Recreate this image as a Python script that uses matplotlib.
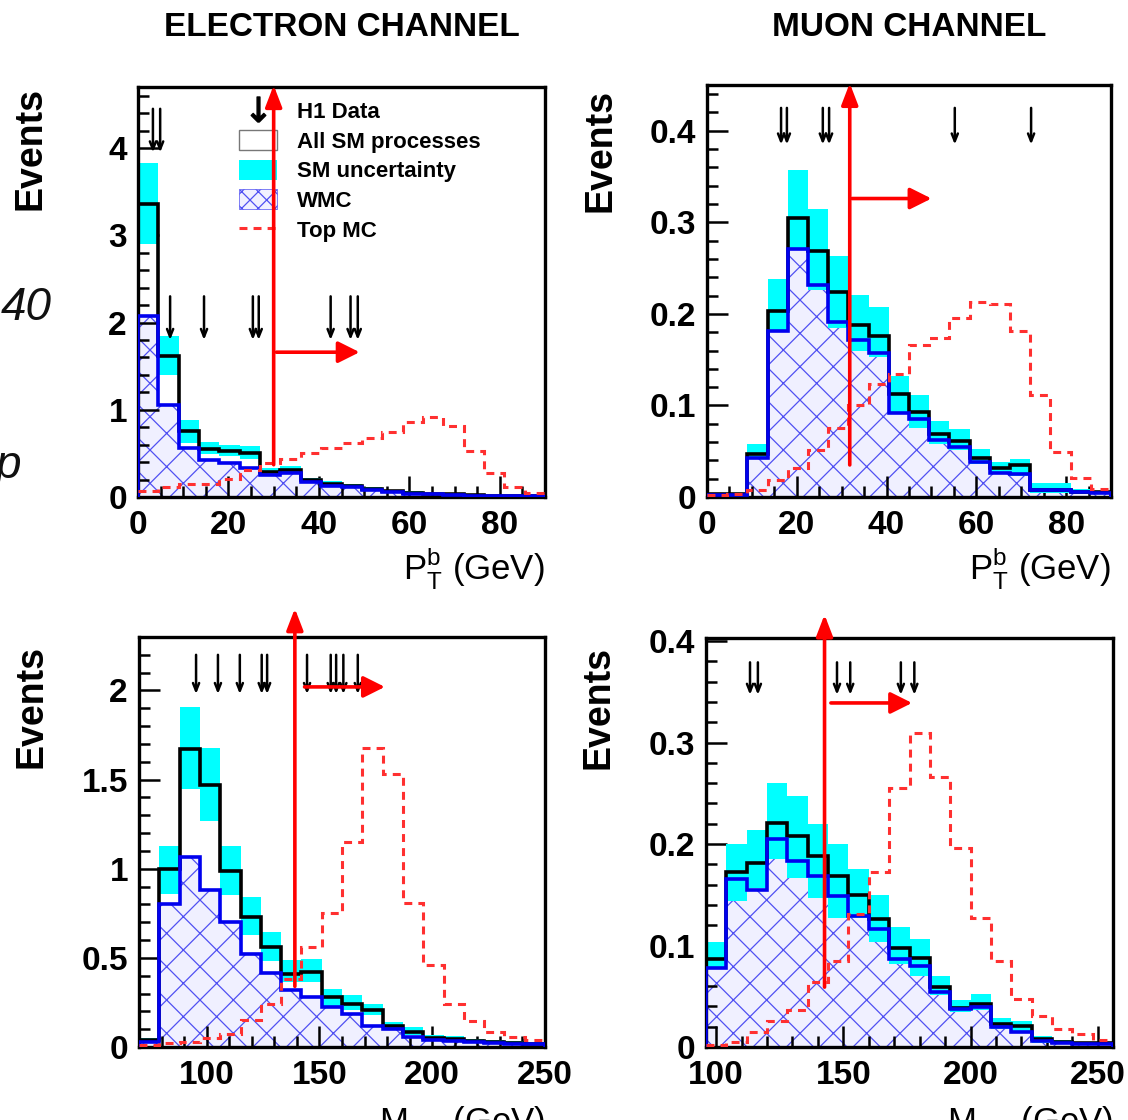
import numpy as np
import matplotlib
matplotlib.use('Agg')
from matplotlib import pyplot as plt
from matplotlib.patches import Patch
from matplotlib.lines import Line2D
from matplotlib.ticker import MultipleLocator, FormatStrFormatter

plt.rcParams['font.family'] = ['Liberation Sans', 'DejaVu Sans']
plt.rcParams['hatch.linewidth'] = 0.9

#%% DATA

# pT of b, 20 bins of 4.5 GeV from 0 to 90
edges_pt = np.arange(0, 90.1, 4.5)
# m_blnu, electron: 20 bins of 9 GeV from 70 to 250 ; muon: 20 bins of 8 GeV from 96 to 256
edges_m_e = np.arange(70, 250.1, 9)
edges_m_mu = np.arange(96, 256.1, 8)

# electron channel, pT^b
e_pt_sm = [3.36, 1.62, 0.76, 0.55, 0.53, 0.51, 0.29, 0.31, 0.19, 0.15,
           0.13, 0.09, 0.07, 0.05, 0.04, 0.03, 0.02, 0.015, 0.01, 0.01]
e_pt_up = [3.83, 1.85, 0.88, 0.63, 0.60, 0.58, 0.33, 0.35, 0.22, 0.18,
           0.15, 0.11, 0.085, 0.065, 0.05, 0.04, 0.028, 0.02, 0.015, 0.012]
e_pt_lo = [2.90, 1.40, 0.62, 0.49, 0.47, 0.43, 0.27, 0.27, 0.16, 0.12,
           0.11, 0.07, 0.055, 0.04, 0.03, 0.02, 0.014, 0.01, 0.007, 0.006]
e_pt_w = [2.07, 1.06, 0.56, 0.42, 0.39, 0.33, 0.25, 0.27, 0.17, 0.13,
          0.11, 0.08, 0.06, 0.04, 0.03, 0.02, 0.015, 0.01, 0.01, 0.01]
e_pt_top = [0.07, 0.12, 0.15, 0.15, 0.21, 0.31, 0.39, 0.43, 0.50, 0.56,
            0.62, 0.68, 0.75, 0.86, 0.92, 0.81, 0.53, 0.27, 0.12, 0.05]
e_pt_data = [3.3, 4.9, 7.1, 14.6, 25.4, 26.7, 42.6, 47.0, 48.6]

# muon channel, pT^b
mu_pt_sm = [0.003, 0.003, 0.047, 0.203, 0.305, 0.269, 0.224, 0.188, 0.176, 0.113,
            0.093, 0.069, 0.061, 0.043, 0.032, 0.035, 0.008, 0.008, 0.006, 0.005]
mu_pt_up = [0.004, 0.004, 0.058, 0.238, 0.357, 0.315, 0.263, 0.221, 0.208, 0.132,
            0.111, 0.083, 0.074, 0.052, 0.038, 0.041, 0.015, 0.015, 0.009, 0.007]
mu_pt_lo = [0.002, 0.002, 0.043, 0.181, 0.272, 0.226, 0.185, 0.160, 0.153, 0.092,
            0.075, 0.058, 0.051, 0.036, 0.025, 0.023, 0.004, 0.004, 0.003, 0.003]
mu_pt_w = [0.002, 0.002, 0.043, 0.181, 0.271, 0.232, 0.191, 0.171, 0.157, 0.092,
           0.085, 0.062, 0.055, 0.038, 0.026, 0.025, 0.0075, 0.0075, 0.005, 0.004]
mu_pt_top = [0.002, 0.003, 0.008, 0.019, 0.032, 0.051, 0.075, 0.100, 0.123, 0.134,
             0.166, 0.174, 0.195, 0.213, 0.211, 0.181, 0.111, 0.049, 0.021, 0.009]
mu_pt_data = [16.5, 17.8, 25.8, 27.2, 55.2, 72.2]

# electron channel, m_blnu
e_m_sm = [0.037, 0.996, 1.67, 1.47, 0.99, 0.73, 0.56, 0.41, 0.42, 0.28,
          0.24, 0.21, 0.12, 0.084, 0.05, 0.043, 0.032, 0.028, 0.024, 0.019]
e_m_up = [0.05, 1.13, 1.91, 1.68, 1.13, 0.84, 0.645, 0.486, 0.495, 0.327,
          0.29, 0.243, 0.14, 0.112, 0.065, 0.062, 0.045, 0.038, 0.032, 0.026]
e_m_lo = [0.028, 0.86, 1.45, 1.27, 0.85, 0.63, 0.48, 0.365, 0.365, 0.23,
          0.205, 0.178, 0.107, 0.065, 0.04, 0.033, 0.025, 0.021, 0.018, 0.014]
e_m_w = [0.028, 0.80, 1.065, 0.878, 0.70, 0.52, 0.417, 0.32, 0.28, 0.224,
         0.187, 0.12, 0.10, 0.056, 0.037, 0.032, 0.028, 0.022, 0.019, 0.015]
e_m_top = [0.01, 0.02, 0.03, 0.05, 0.075, 0.15, 0.24, 0.38, 0.56, 0.75,
           1.15, 1.68, 1.53, 0.81, 0.46, 0.24, 0.144, 0.084, 0.056, 0.037]
e_m_data = [95.3, 105.0, 114.7, 124.4, 126.8, 144.5, 155.0, 157.4, 160.6, 167.0]

# muon channel, m_blnu
mu_m_sm = [0.087, 0.172, 0.181, 0.221, 0.208, 0.188, 0.168, 0.150, 0.126, 0.098,
           0.088, 0.059, 0.038, 0.042, 0.023, 0.021, 0.0075, 0.005, 0.004, 0.0035]
mu_m_up = [0.103, 0.200, 0.214, 0.260, 0.247, 0.220, 0.200, 0.175, 0.150, 0.118,
           0.106, 0.070, 0.046, 0.052, 0.029, 0.026, 0.011, 0.007, 0.005, 0.005]
mu_m_lo = [0.077, 0.144, 0.157, 0.185, 0.167, 0.147, 0.127, 0.127, 0.103, 0.082,
           0.070, 0.051, 0.034, 0.036, 0.018, 0.015, 0.004, 0.003, 0.002, 0.002]
mu_m_w = [0.078, 0.166, 0.155, 0.205, 0.183, 0.168, 0.149, 0.129, 0.116, 0.087,
          0.080, 0.054, 0.037, 0.039, 0.020, 0.015, 0.006, 0.004, 0.003, 0.003]
mu_m_top = [0.002, 0.005, 0.015, 0.026, 0.036, 0.064, 0.085, 0.131, 0.172, 0.255,
            0.309, 0.266, 0.196, 0.127, 0.085, 0.047, 0.031, 0.018, 0.013, 0.0065]
mu_m_data = [113.3, 116.4, 147.5, 152.7, 172.6, 177.9]

#%% PLOT

W, H = 1128, 1120
fig = plt.figure(figsize=(W / 100, H / 100), dpi=100)

def px_axes(l, t, r, b):
    return fig.add_axes([l / W, 1 - b / H, (r - l) / W, (b - t) / H])

def data_arrow(ax, x, y0, y1):
    ax.annotate('', xy=(x, y1), xytext=(x, y0),
                arrowprops=dict(arrowstyle='->,head_length=0.55,head_width=0.22',
                                color='black', lw=1.8, shrinkA=0, shrinkB=0),
                zorder=6)

def draw_panel(ax, edges, sm, up, lo, w, top, data, ylim, data_y):
    ax.stairs(w, edges, baseline=0, fill=True, facecolor='#f0f0ff',
              edgecolor='#5050f2', hatch='x', linewidth=0, zorder=1)
    ax.stairs(up, edges, baseline=lo, fill=True, color='#00ffff',
              linewidth=0, zorder=2)
    ax.stairs(sm, edges, baseline=0, color='black', lw=2.6, zorder=3)
    ax.stairs(w, edges, baseline=0, color='#0000ee', lw=2.6, zorder=4)
    ax.stairs(top, edges, baseline=None, color='#ff3030', lw=2.2,
              linestyle=(0, (2.6, 2.0)), zorder=5)
    for x in data:
        data_arrow(ax, x, data_y[0], data_y[1])
    ax.set_xlim(edges[0], edges[-1])
    ax.set_ylim(*ylim)
    for s in ax.spines.values():
        s.set_linewidth(2.4)
    ax.tick_params(which='both', direction='in', top=False, right=False,
                   width=1.8, labelsize=24)
    ax.tick_params(axis='y', pad=8)
    ax.tick_params(axis='x', pad=9)
    ax.tick_params(which='major', length=15)
    ax.tick_params(which='minor', length=8)
    ax.yaxis.set_major_formatter(FormatStrFormatter('%g'))

def red_arrows(ax, xv, yv0, yv1, hy, hx0, hx1):
    ax.annotate('', xy=(xv, yv1), xytext=(xv, yv0), annotation_clip=False,
                arrowprops=dict(arrowstyle='-|>,head_length=1.3,head_width=0.5',
                                color='red', lw=2.6, shrinkA=0, shrinkB=0),
                zorder=10)
    ax.annotate('', xy=(hx1, hy), xytext=(hx0, hy), annotation_clip=False,
                arrowprops=dict(arrowstyle='-|>,head_length=1.3,head_width=0.65',
                                color='red', lw=2.6, shrinkA=0, shrinkB=0),
                zorder=10)

ax1 = px_axes(138, 87, 545, 497)
ax2 = px_axes(707, 85, 1111, 497)
ax3 = px_axes(139, 637, 545, 1047)
ax4 = px_axes(706, 638, 1113, 1047)

draw_panel(ax1, edges_pt, e_pt_sm, e_pt_up, e_pt_lo, e_pt_w, e_pt_top,
           e_pt_data[:2], (0, 4.7), (4.45, 3.95))
for x in e_pt_data[2:]:
    data_arrow(ax1, x, 2.3, 1.8)
draw_panel(ax2, edges_pt, mu_pt_sm, mu_pt_up, mu_pt_lo, mu_pt_w, mu_pt_top,
           mu_pt_data, (0, 0.45), (0.425, 0.385))
draw_panel(ax3, edges_m_e, e_m_sm, e_m_up, e_m_lo, e_m_w, e_m_top,
           e_m_data, (0, 2.3), (2.2, 1.98))
draw_panel(ax4, edges_m_mu, mu_m_sm, mu_m_up, mu_m_lo, mu_m_w, mu_m_top,
           mu_m_data, (0, 0.403), (0.379, 0.347))

for ax in (ax1, ax2):
    ax.xaxis.set_major_locator(MultipleLocator(20))
    ax.xaxis.set_minor_locator(MultipleLocator(5))
    ax.set_xlabel(r'P$_\mathregular{T}^\mathregular{b}$ (GeV)', fontsize=25,
                  loc='right', labelpad=4)
for ax in (ax3, ax4):
    ax.xaxis.set_major_locator(MultipleLocator(50))
    ax.xaxis.set_minor_locator(MultipleLocator(10))
    ax.set_xlabel(r'M$_\mathregular{b\ell\nu}$ (GeV)', fontsize=25,
                  loc='right', labelpad=10)

ax1.yaxis.set_major_locator(MultipleLocator(1))
ax1.yaxis.set_minor_locator(MultipleLocator(0.2))
ax2.yaxis.set_major_locator(MultipleLocator(0.1))
ax2.yaxis.set_minor_locator(MultipleLocator(0.02))
ax3.yaxis.set_major_locator(MultipleLocator(0.5))
ax3.yaxis.set_minor_locator(MultipleLocator(0.1))
ax4.yaxis.set_major_locator(MultipleLocator(0.1))
ax4.yaxis.set_minor_locator(MultipleLocator(0.02))

for ax, yy in ((ax1, 1.0), (ax2, 0.99), (ax3, 0.98), (ax4, 0.98)):
    ax.set_ylabel('Events', fontsize=27, fontweight='bold', loc='top')
    ax.yaxis.set_label_coords(-0.22, yy)
    for lab in ax.get_xticklabels() + ax.get_yticklabels():
        lab.set_fontweight('bold')

ax1.set_title('ELECTRON CHANNEL', fontsize=24, fontweight='bold', pad=37)
ax2.set_title('MUON CHANNEL', fontsize=24, fontweight='bold', pad=35.5)

# cut boundaries (red arrows)
red_arrows(ax1, 30, 0.37, 4.72, 1.66, 30.6, 49)
red_arrows(ax2, 31.8, 0.035, 0.452, 0.326, 32.3, 50)
red_arrows(ax3, 139.1, 0.34, 2.46, 2.02, 143.4, 179)
red_arrows(ax4, 142.6, 0.059, 0.426, 0.339, 145.1, 177)

# legend
handles = [Line2D([], [], marker=r'$\downarrow$', color='black', ls='none', markersize=18),
           Patch(facecolor='white', edgecolor='#777777', lw=1),
           Patch(facecolor='#00ffff', edgecolor='none'),
           Patch(facecolor='#f0f0ff', edgecolor='#5050f2', hatch='xx', lw=0.5),
           Line2D([], [], color='#ff3030', lw=2.2, linestyle=(0, (2.6, 2.0)))]
labels = ['H1 Data', 'All SM processes', 'SM uncertainty', 'WMC', 'Top MC']
leg = ax1.legend(handles, labels, loc='upper left', bbox_to_anchor=(0.215, 1.0),
                 frameon=False, prop=dict(size=16, weight='bold'),
                 handlelength=1.7, handleheight=1.0, labelspacing=0.32,
                 handletextpad=0.9, borderaxespad=0.2)
leg.set_zorder(7)

# fragments of neighbouring page text at the left edge
fig.text(52 / W, 1 - 308 / H, '40', fontsize=33, style='italic',
         ha='right', va='center', color='#111111')
fig.text(21 / W, 1 - 478 / H, 'p', fontsize=33, style='italic',
         ha='right', va='baseline', color='#111111')

fig.savefig('out.png', dpi=100)
